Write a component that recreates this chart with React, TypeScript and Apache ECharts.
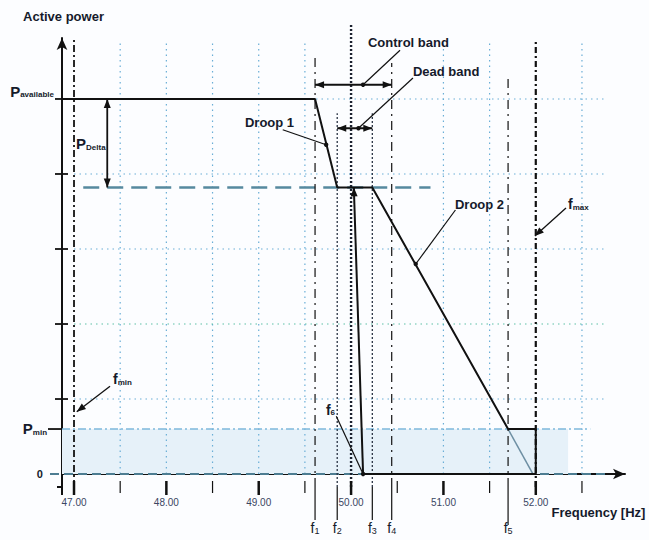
import React, { useEffect, useRef } from "react";
import * as echarts from "echarts";

const FONT = "'Liberation Sans', Arial, Helvetica, sans-serif";
const INK = "#151a2b";

// ---- axis extents (frequency in Hz, power in relative units) ----
const X_MIN = 46.87;
const X_MAX = 52.966;
const Y_MIN = -0.173;
const Y_MAX = 5.813;

// ---- tick values ----
const freqMajorTicks = [47, 48, 49, 50, 51, 52];
const freqMinorTicks = [47.5, 48.5, 49.5, 50.5, 51.5, 52.5];
const freqGridLines = [47.5, 48, 48.5, 49, 49.5, 51, 51.5, 52.5];
const powerTicks = [1, 2, 3, 4, 5];

// ---- characteristic power levels ----
const P_AVAILABLE = 5;
const P_DELTA_LEVEL = 3.82;
const P_MIN = 0.6;
const P_ZERO = 0;

// ---- characteristic frequencies ----
const F_MIN = 47.0;
const F1 = 49.61;
const F2 = 49.85;
const F_NOM = 50.0;
const F3 = 50.23;
const F4 = 50.44;
const F5 = 51.7;
const F_MAX = 52.0;
const F6 = 50.13;
const F_ZERO_CROSS = 51.97;

// ---- main characteristic curve ----
const curveFreq = [X_MIN, F1, F2, F3, F5, F_MAX, F_MAX, F6];
const curvePower = [P_AVAILABLE, P_AVAILABLE, P_DELTA_LEVEL, P_DELTA_LEVEL, P_MIN, P_MIN, P_ZERO, P_ZERO];

// ---- band markers ----
const CONTROL_BAND_LEVEL = 5.19;
const DEAD_BAND_LEVEL = 4.61;
const P_DELTA_FREQ = 47.36;

type Seg = {
  a: number[];
  b: number[];
  color?: string;
  width?: number;
  dash?: number[];
  head?: "start" | "end" | "both";
  dot?: "start" | "end";
};

function arrowHead(tip: number[], from: number[], color: string, len = 9, w = 7) {
  const dx = tip[0] - from[0];
  const dy = tip[1] - from[1];
  const d = Math.hypot(dx, dy) || 1;
  const ux = dx / d;
  const uy = dy / d;
  const bx = tip[0] - ux * len;
  const by = tip[1] - uy * len;
  return {
    type: "polygon",
    shape: {
      points: [
        [tip[0], tip[1]],
        [bx - (uy * w) / 2, by + (ux * w) / 2],
        [bx + (uy * w) / 2, by - (ux * w) / 2],
      ],
    },
    style: { fill: color },
  };
}

function segSeries(id: string, segs: Seg[], z: number) {
  return {
    type: "custom",
    id,
    z,
    silent: true,
    clip: false,
    data: segs.map((s) => [s.a[0], s.a[1], s.b[0], s.b[1]]),
    encode: { x: [0, 2], y: [1, 3] },
    renderItem: (params: any, api: any) => {
      const s = segs[params.dataIndex];
      const p1 = api.coord(s.a);
      const p2 = api.coord(s.b);
      const color = s.color || "#111";
      const children: any[] = [
        {
          type: "line",
          shape: { x1: p1[0], y1: p1[1], x2: p2[0], y2: p2[1] },
          style: { stroke: color, lineWidth: s.width || 1.5, lineDash: s.dash || null, fill: null },
        },
      ];
      if (s.head === "end" || s.head === "both") children.push(arrowHead(p2, p1, color));
      if (s.head === "start" || s.head === "both") children.push(arrowHead(p1, p2, color));
      if (s.dot) {
        const p = s.dot === "start" ? p1 : p2;
        children.push({ type: "circle", shape: { cx: p[0], cy: p[1], r: 2.2 }, style: { fill: color } });
      }
      return { type: "group", children };
    },
  };
}

const GRID_BLUE = "#6aaed6";
const GRID_GREEN = "#5cc0a6";

const gridSegs: Seg[] = [
  ...freqGridLines.map((v) => ({ a: [v, P_ZERO], b: [v, 5.75], color: GRID_BLUE, width: 1.2, dash: [1.5, 4] })),
  ...powerTicks.map((v) => ({
    a: [F_MIN, v],
    b: [52.77, v],
    color: v === 2 ? GRID_GREEN : GRID_BLUE,
    width: 1.2,
    dash: [1.5, 4],
  })),
];

const levelSegs: Seg[] = [
  { a: [X_MIN, P_MIN], b: [52.59, P_MIN], color: "#7db8dc", width: 1.5, dash: [8, 3, 2, 3] },
  { a: [46.74, P_ZERO], b: [52.8, P_ZERO], color: "#4d7d92", width: 2, dash: [9, 5] },
  { a: [47.1, P_DELTA_LEVEL], b: [50.86, P_DELTA_LEVEL], color: "#56899f", width: 2.5, dash: [16, 8] },
  { a: [F5, P_MIN], b: [F_ZERO_CROSS, P_ZERO], color: "#6e8fa3", width: 1.5 },
];

const BELOW = -0.613;
const verticalSegs: Seg[] = [
  { a: [F_MIN, Y_MIN], b: [F_MIN, 5.8], width: 1.8, dash: [7, 3, 2, 3] },
  { a: [F_MAX, Y_MIN], b: [F_MAX, 5.79], width: 2.2, dash: [6, 3, 2, 3] },
  { a: [F1, Y_MIN], b: [F1, 5.56], width: 1.2, dash: [9, 5, 2, 5] },
  { a: [F4, Y_MIN], b: [F4, 5.48], width: 1.2, dash: [9, 5, 2, 5] },
  { a: [F5, Y_MIN], b: [F5, 5.28], width: 1.2, dash: [9, 5, 2, 5] },
  { a: [F2, Y_MIN], b: [F2, 4.81], width: 1.3, dash: [2, 2], color: "#2a3344" },
  { a: [F3, Y_MIN], b: [F3, 4.81], width: 1.3, dash: [2, 2], color: "#2a3344" },
  { a: [F_NOM, Y_MIN], b: [F_NOM, 5.987], width: 2.4, dash: [2, 2], color: "#1c2230" },
  { a: [F1, Y_MIN], b: [F1, BELOW], width: 1.2 },
  { a: [F2, Y_MIN], b: [F2, BELOW], width: 1.2 },
  { a: [F3, Y_MIN], b: [F3, BELOW], width: 1.2 },
  { a: [F4, Y_MIN], b: [F4, BELOW], width: 1.2 },
  { a: [F5, Y_MIN], b: [F5, -0.68], width: 1.2 },
  { a: [X_MIN, Y_MIN], b: [X_MIN, -0.28], width: 2 },
  { a: [46.816, Y_MIN], b: [X_MIN, Y_MIN], width: 2 },
];

const arrowSegs: Seg[] = [
  { a: [F6, P_ZERO], b: [50.03, P_DELTA_LEVEL], width: 2, head: "end" },
  { a: [P_DELTA_FREQ, P_AVAILABLE], b: [P_DELTA_FREQ, P_DELTA_LEVEL], width: 1.8, head: "both" },
  { a: [F1, CONTROL_BAND_LEVEL], b: [F4, CONTROL_BAND_LEVEL], width: 1.8, head: "both" },
  { a: [F2, DEAD_BAND_LEVEL], b: [F3, DEAD_BAND_LEVEL], width: 1.8, head: "both" },
  { a: [50.13, CONTROL_BAND_LEVEL], b: [50.53, 5.65], width: 1.2, dot: "start" },
  { a: [50.08, DEAD_BAND_LEVEL], b: [50.67, 5.28], width: 1.2, dot: "start" },
  { a: [49.26, 4.59], b: [49.73, 4.39], width: 1.2, dot: "end" },
  { a: [51.13, 3.52], b: [50.7, 2.8], width: 1.2, dot: "end" },
  { a: [49.84, 0.77], b: [F6, P_ZERO], width: 1.2, dot: "end" },
  { a: [47.39, 1.17], b: [47.03, 0.83], width: 1.3, head: "end" },
  { a: [52.327, 3.547], b: [51.99, 3.173], width: 1.3, head: "end" },
];

// ---- text annotations (anchor in data coordinates) ----
type Lbl = { x: number; y: number; text: string; align: "left" | "center" | "right" };
const labels: Lbl[] = [
  { x: 46.448, y: 6.093, text: "{b|Active power}", align: "left" },
  { x: 52.17, y: -0.507, text: "{b|Frequency [Hz]}", align: "left" },
  { x: 50.183, y: 5.747, text: "{b|Control band}", align: "left" },
  { x: 50.67, y: 5.36, text: "{b|Dead band}", align: "left" },
  { x: 48.851, y: 4.693, text: "{b|Droop 1}", align: "left" },
  { x: 51.125, y: 3.587, text: "{b|Droop 2}", align: "left" },
  { x: 52.349, y: 3.613, text: "{fb|f}{sb|max}", align: "left" },
  { x: 47.422, y: 1.28, text: "{fb|f}{sb|min}", align: "left" },
  { x: 49.728, y: 0.867, text: "{fb|f}{sb|6}", align: "left" },
  { x: 46.783, y: 5.107, text: "{P|P}{sb|available}", align: "right" },
  { x: 46.708, y: 0.613, text: "{P|P}{sb|min}", align: "right" },
  { x: 46.664, y: 0.0, text: "{z|0}", align: "right" },
  { x: 47.022, y: 4.413, text: "{P|P}{sb|Delta}", align: "left" },
  { x: F1, y: -0.707, text: "{f|f}{s|1}", align: "center" },
  { x: F2, y: -0.707, text: "{f|f}{s|2}", align: "center" },
  { x: F3, y: -0.707, text: "{f|f}{s|3}", align: "center" },
  { x: F4, y: -0.707, text: "{f|f}{s|4}", align: "center" },
  { x: F5, y: -0.707, text: "{f|f}{s|5}", align: "center" },
];

const rich = {
  b: { fontSize: 13, fontWeight: "bold", fontFamily: FONT, fill: INK, lineHeight: 16 },
  P: { fontSize: 15, fontWeight: "bold", fontFamily: FONT, fill: INK, lineHeight: 16, verticalAlign: "bottom" },
  fb: { fontSize: 14, fontWeight: "bold", fontFamily: FONT, fill: INK, lineHeight: 16, verticalAlign: "bottom" },
  f: { fontSize: 14, fontFamily: FONT, fill: INK, lineHeight: 16, verticalAlign: "bottom" },
  sb: { fontSize: 8, fontWeight: "bold", fontFamily: FONT, fill: INK, lineHeight: 9, verticalAlign: "bottom" },
  s: { fontSize: 9, fontFamily: FONT, fill: INK, lineHeight: 10, verticalAlign: "bottom" },
  z: { fontSize: 11, fontWeight: "bold", fontFamily: FONT, fill: INK, lineHeight: 14 },
};

function App() {
  const ref = useRef<HTMLDivElement>(null);
  useEffect(() => {
    if (!ref.current) return;
    const chart = echarts.init(ref.current, null, { renderer: "svg" });
    const option: any = {
      animation: false,
      backgroundColor: "#fcfdff",
      grid: { left: 62, right: 24, top: 38, bottom: 53 },
      xAxis: {
        type: "value",
        min: X_MIN,
        max: X_MAX,
        axisLine: { show: true, lineStyle: { color: "#111", width: 2 }, symbol: ["none", "arrow"], symbolSize: [8, 12] },
        axisTick: { show: false },
        splitLine: { show: false },
        axisLabel: {
          customValues: freqMajorTicks,
          formatter: (v: number) => v.toFixed(2),
          fontSize: 10,
          fontFamily: FONT,
          color: "#3a4662",
          margin: 10,
        },
      },
      yAxis: {
        type: "value",
        min: Y_MIN,
        max: Y_MAX,
        axisLine: { show: true, lineStyle: { color: "#111", width: 2 }, symbol: ["none", "arrow"], symbolSize: [8, 12] },
        axisTick: { show: false },
        splitLine: { show: false },
        axisLabel: { show: false },
      },
      series: [
        {
          type: "custom",
          id: "shade",
          z: 1,
          silent: true,
          data: [[X_MIN, P_ZERO, 52.35, P_MIN]],
          encode: { x: [0, 2], y: [1, 3] },
          renderItem: (params: any, api: any) => {
            const p1 = api.coord([api.value(0), api.value(3)]);
            const p2 = api.coord([api.value(2), api.value(1)]);
            return {
              type: "rect",
              shape: { x: p1[0], y: p1[1], width: p2[0] - p1[0], height: p2[1] - p1[1] },
              style: { fill: "#e6f1f9" },
            };
          },
        },
        segSeries("grid", gridSegs, 2),
        segSeries("levels", levelSegs, 3),
        segSeries("verticals", verticalSegs, 4),
        {
          type: "line",
          id: "curve",
          z: 6,
          silent: true,
          clip: false,
          showSymbol: false,
          data: curveFreq.map((x, i) => [x, curvePower[i]]),
          lineStyle: { color: "#111", width: 2 },
        },
        segSeries("arrows", arrowSegs, 7),
        {
          type: "custom",
          id: "xticks",
          z: 8,
          silent: true,
          clip: false,
          data: [...freqMajorTicks.map((v) => [v, 1]), ...freqMinorTicks.map((v) => [v, 0])],
          renderItem: (params: any, api: any) => {
            const major = api.value(1) === 1;
            const p = api.coord([api.value(0), Y_MIN]);
            return {
              type: "line",
              shape: { x1: p[0], y1: p[1] - 6, x2: p[0], y2: p[1] + (major ? 8 : 6) },
              style: { stroke: "#111", lineWidth: major ? 2.5 : 1.2 },
            };
          },
        },
        {
          type: "custom",
          id: "yticks",
          z: 8,
          silent: true,
          clip: false,
          data: [...powerTicks.map((v) => [v, 1]), [P_MIN, 0]],
          renderItem: (params: any, api: any) => {
            const cross = api.value(1) === 1;
            const p = api.coord([X_MIN, api.value(0)]);
            return {
              type: "line",
              shape: { x1: p[0] - (cross ? 7 : 14), y1: p[1], x2: p[0] + (cross ? 6 : 0), y2: p[1] },
              style: { stroke: "#111", lineWidth: 1.8 },
            };
          },
        },
        {
          type: "custom",
          id: "labels",
          z: 10,
          silent: true,
          clip: false,
          data: labels.map((l) => [l.x, l.y]),
          renderItem: (params: any, api: any) => {
            const l = labels[params.dataIndex];
            const p = api.coord([l.x, l.y]);
            return {
              type: "text",
              x: p[0],
              y: p[1],
              style: {
                text: l.text,
                rich,
                align: l.align,
                verticalAlign: "middle",
                fill: INK,
                fontFamily: FONT,
              },
            };
          },
        },
      ],
    };
    chart.setOption(option);
    return () => chart.dispose();
  }, []);
  return (
    <div
      ref={ref}
      style={{ position: "absolute", left: 0, top: 0, width: 649, height: 540, background: "#fcfdff" }}
    />
  );
}

export default App;
